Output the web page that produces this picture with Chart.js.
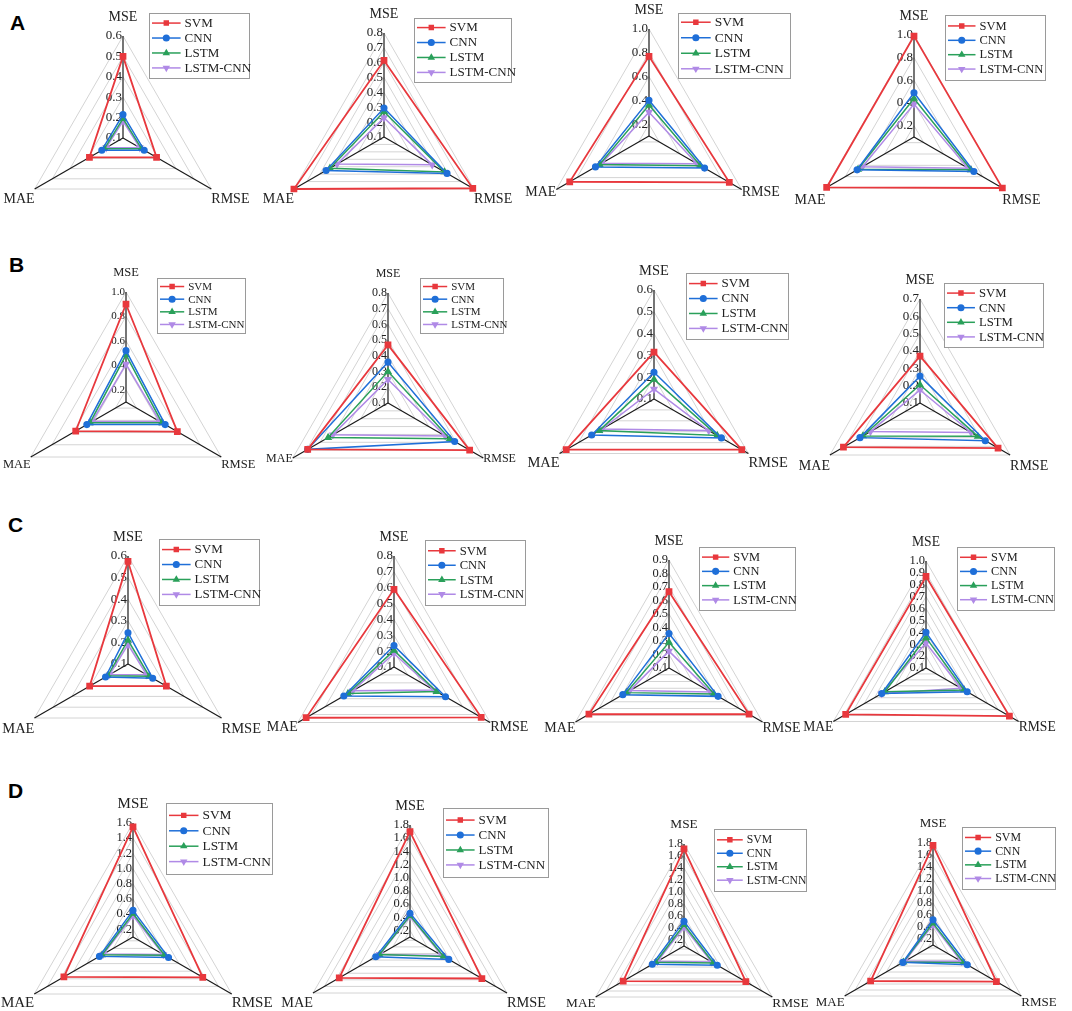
<!DOCTYPE html>
<html>
<head>
<meta charset="utf-8">
<script src="https://cdn.jsdelivr.net/npm/chart.js@4.4.1/dist/chart.umd.min.js"></script>
<style>
html, body { margin: 0; padding: 0; background: #fff; overflow: hidden; }
#wrap { position: relative; width: 1072px; height: 1011px; }
canvas { position: absolute; }
.tag { position: absolute; font: bold 21px "Liberation Sans", Arial, sans-serif; line-height: 21px; color: #000; }
</style>
</head>
<body>
<div id="wrap"></div>
<script>
// axes go clockwise from the top: MSE, RMSE, MAE
const metrics = ['MSE', 'RMSE', 'MAE'];
const models = ['SVM', 'CNN', 'LSTM', 'LSTM-CNN'];
const rowTags = ['A', 'B', 'C', 'D'];

// one entry per panel, rows A..D, left to right
const axisMin = 0.1;
const axisMax  = [0.6, 0.8, 1.0, 1.0,  1.0, 0.8, 0.6, 0.7,  0.6, 0.8, 0.9, 1.0,  1.6, 1.8, 1.8, 1.8];
const axisStep = [0.1, 0.1, 0.2, 0.2,  0.2, 0.1, 0.1, 0.1,  0.1, 0.1, 0.1, 0.1,  0.2, 0.2, 0.2, 0.2];

// [MSE, RMSE, MAE]
const svm = [
  [0.50, 0.29, 0.29], [0.615, 0.79, 0.80], [0.77, 0.88, 0.87], [0.99, 1.0, 0.99],
  [0.90, 0.585, 0.575], [0.47, 0.70, 0.69], [0.315, 0.565, 0.565], [0.37, 0.62, 0.61],
  [0.575, 0.305, 0.305], [0.59, 0.735, 0.74], [0.665, 0.785, 0.785], [0.87, 0.91, 0.88],
  [1.55, 1.16, 1.15], [1.70, 1.36, 1.34], [1.72, 1.29, 1.27], [1.76, 1.32, 1.30]
];
const cnn = [
  [0.215, 0.22, 0.22], [0.295, 0.59, 0.55], [0.40, 0.64, 0.62], [0.49, 0.71, 0.68],
  [0.52, 0.47, 0.47], [0.36, 0.59, 0.69], [0.223, 0.457, 0.43], [0.255, 0.535, 0.50],
  [0.245, 0.232, 0.22], [0.235, 0.475, 0.465], [0.355, 0.52, 0.495], [0.40, 0.50, 0.53],
  [0.45, 0.64, 0.61], [0.46, 0.78, 0.70], [0.51, 0.74, 0.71], [0.52, 0.76, 0.68]
];
const lstm = [
  [0.195, 0.205, 0.205], [0.27, 0.57, 0.52], [0.36, 0.60, 0.58], [0.44, 0.68, 0.67],
  [0.485, 0.44, 0.44], [0.30, 0.555, 0.54], [0.19, 0.435, 0.39], [0.205, 0.485, 0.48],
  [0.21, 0.214, 0.208], [0.205, 0.41, 0.435], [0.29, 0.485, 0.465], [0.355, 0.47, 0.50],
  [0.41, 0.58, 0.57], [0.425, 0.69, 0.635], [0.455, 0.665, 0.645], [0.465, 0.69, 0.67]
];
const lstmCnn = [
  [0.183, 0.195, 0.195], [0.23, 0.475, 0.465], [0.30, 0.565, 0.56], [0.39, 0.65, 0.625],
  [0.41, 0.42, 0.42], [0.25, 0.52, 0.505], [0.145, 0.39, 0.375], [0.175, 0.44, 0.43],
  [0.19, 0.20, 0.198], [0.185, 0.39, 0.40], [0.225, 0.455, 0.435], [0.31, 0.44, 0.53],
  [0.38, 0.56, 0.55], [0.41, 0.66, 0.63], [0.415, 0.63, 0.61], [0.435, 0.645, 0.645]
];
const series = [svm, cnn, lstm, lstmCnn];

const colors = ['#e8383d', '#1f6fd8', '#2aa05a', '#b08ae6'];
const shapes = ['rect', 'circle', 'triangle', 'triangle'];
const turns = [0, 0, 0, 180];
const radii = [3.5, 2.8, 3.2, 3.2];

// page layout: centre, radius, legend box, font sizes, drop of the bottom labels
const panels = [
  {cx: 123, cy: 138, r: 102, lg: [149, 13, 100, 65], fl: 14, ft: 13, fg: 13, lo: 10},
  {cx: 384, cy: 137, r: 104, lg: [414, 18, 97, 64], fl: 14, ft: 13, fg: 13, lo: 10},
  {cx: 649, cy: 136, r: 107, lg: [678, 13, 112, 65], fl: 14, ft: 13, fg: 13.5, lo: 3},
  {cx: 914, cy: 137, r: 102, lg: [945, 15, 100, 65], fl: 14, ft: 13, fg: 12.5, lo: 12},
  {cx: 126, cy: 402, r: 110, lg: [157, 278, 88, 55], fl: 12.5, ft: 11, fg: 11, lo: 8},
  {cx: 388, cy: 403, r: 110, lg: [420, 278, 83, 55], fl: 12, ft: 12, fg: 11, lo: 1},
  {cx: 654, cy: 399, r: 109, lg: [686, 273, 102, 66], fl: 14.5, ft: 13, fg: 13, lo: 10},
  {cx: 920, cy: 403, r: 104, lg: [944, 283, 99, 64], fl: 14, ft: 13, fg: 12.7, lo: 11},
  {cx: 128, cy: 664, r: 108, lg: [159, 539, 100, 66], fl: 14.5, ft: 13, fg: 13, lo: 11},
  {cx: 394, cy: 667, r: 111, lg: [425, 540, 100, 65], fl: 14, ft: 13, fg: 12.6, lo: 5},
  {cx: 669, cy: 668, r: 108, lg: [699, 547, 96, 63], fl: 14, ft: 12.5, fg: 12.4, lo: 6},
  {cx: 926, cy: 668, r: 107, lg: [957, 547, 97, 63], fl: 13.6, ft: 12.5, fg: 12.3, lo: 6},
  {cx: 133, cy: 937, r: 114, lg: [166, 803, 106, 71], fl: 15, ft: 12.5, fg: 13.4, lo: 9},
  {cx: 410, cy: 937, r: 112, lg: [443, 808, 105, 69], fl: 14.3, ft: 12.5, fg: 13, lo: 10},
  {cx: 684, cy: 946, r: 102, lg: [714, 829, 92, 62], fl: 13.3, ft: 12, fg: 11.7, lo: 7},
  {cx: 933, cy: 945, r: 102, lg: [962, 827, 93, 62], fl: 13, ft: 12, fg: 11.9, lo: 7}
];
const tagPos = [[10, 12], [9, 254], [8, 514], [8, 780]];

const W = 310, H = 250, C = 150;
const serif = '"Liberation Serif", "Times New Roman", serif';

function tickList(k) {
  const out = [axisMin];
  for (let v = axisStep[k]; v <= axisMax[k] + 1e-9; v += axisStep[k]) {
    const t = Math.round(v * 10) / 10;
    if (t > axisMin + 1e-9) out.push(t);
  }
  return out;
}

const radarText = {
  id: 'radarText',
  beforeDatasetsDraw(chart, args, o) {
    const s = chart.scales.r, ctx = chart.ctx, p = panels[o.k];
    ctx.save();
    ctx.fillStyle = '#222';
    ctx.textBaseline = 'middle';
    ctx.textAlign = 'right';
    ctx.font = p.ft + 'px ' + serif;
    s.ticks.forEach(t => {
      const n = t.value / axisStep[o.k];
      if (Math.abs(n - Math.round(n)) > 1e-6) return;
      ctx.fillText(t.value.toFixed(1), s.xCenter - 1, s.yCenter - s.getDistanceFromCenterForValue(t.value));
    });
    ctx.font = p.fl + 'px ' + serif;
    metrics.forEach((m, i) => {
      const pt = s.getPointPosition(i, s.drawingArea);
      if (i === 0) {
        ctx.textAlign = 'center';
        ctx.fillText(m, pt.x, pt.y - 19);
      } else {
        ctx.textAlign = i === 1 ? 'left' : 'right';
        ctx.fillText(m, pt.x, pt.y + p.lo);
      }
    });
    ctx.restore();
  },
  afterDraw(chart, args, o) {
    const ctx = chart.ctx, p = panels[o.k];
    const x = p.lg[0] - (p.cx - C), y = p.lg[1] - (p.cy - C), w = p.lg[2], h = p.lg[3];
    ctx.save();
    ctx.fillStyle = '#fff';
    ctx.fillRect(x, y, w, h);
    ctx.strokeStyle = '#9a9a9a';
    ctx.lineWidth = 1;
    ctx.strokeRect(x + 0.5, y + 0.5, w, h);
    const gap = p.fg * 1.15, len = p.fg * 2.2;
    const y0 = y + (h - 3 * gap) / 2;
    ctx.font = p.fg + 'px ' + serif;
    ctx.textBaseline = 'middle';
    ctx.textAlign = 'left';
    chart.data.datasets.forEach((d, i) => {
      const yy = y0 + i * gap, x1 = x + 3;
      ctx.strokeStyle = d.borderColor;
      ctx.lineWidth = 1.5;
      ctx.beginPath();
      ctx.moveTo(x1, yy);
      ctx.lineTo(x1 + len, yy);
      ctx.stroke();
      ctx.fillStyle = d.borderColor;
      if (Chart.helpers && Chart.helpers.drawPoint) {
        Chart.helpers.drawPoint(ctx, {pointStyle: d.pointStyle, rotation: d.pointRotation, radius: 2.8, borderWidth: 1}, x1 + len / 2, yy);
      }
      ctx.fillStyle = '#222';
      ctx.fillText(d.label, x1 + len + 4, yy + 0.5);
    });
    ctx.restore();
  }
};

const wrap = document.getElementById('wrap');

rowTags.forEach((t, i) => {
  const d = document.createElement('div');
  d.className = 'tag';
  d.textContent = t;
  d.style.left = tagPos[i][0] + 'px';
  d.style.top = tagPos[i][1] + 'px';
  wrap.appendChild(d);
});

panels.forEach((p, k) => {
  const cv = document.createElement('canvas');
  cv.width = W;
  cv.height = H;
  cv.style.left = (p.cx - C) + 'px';
  cv.style.top = (p.cy - C) + 'px';
  cv.style.width = W + 'px';
  cv.style.height = H + 'px';
  wrap.appendChild(cv);

  new Chart(cv, {
    type: 'radar',
    data: {
      labels: metrics,
      datasets: models.map((m, i) => ({
        label: m,
        data: series[i][k],
        borderColor: colors[i],
        backgroundColor: colors[i],
        pointBackgroundColor: colors[i],
        pointBorderColor: colors[i],
        pointStyle: shapes[i],
        pointRotation: turns[i],
        pointRadius: radii[i],
        borderWidth: i === 0 ? 1.8 : 1.5,
        fill: false,
        clip: false
      }))
    },
    options: {
      responsive: false,
      animation: false,
      events: [],
      plugins: {
        legend: {display: false},
        tooltip: {enabled: false},
        radarText: {k: k}
      },
      scales: {
        r: {
          min: axisMin,
          max: axisMax[k],
          ticks: {display: false, stepSize: axisStep[k]},
          afterBuildTicks: s => { s.ticks = tickList(k).map(v => ({value: v})); },
          afterFit: s => { s.xCenter = C; s.yCenter = C; s.drawingArea = p.r; },
          grid: {color: '#d4d4d4', lineWidth: 1},
          angleLines: {color: '#1a1a1a', lineWidth: 1.2},
          pointLabels: {display: false}
        }
      }
    },
    plugins: [radarText]
  });
});
</script>
</body>
</html>
